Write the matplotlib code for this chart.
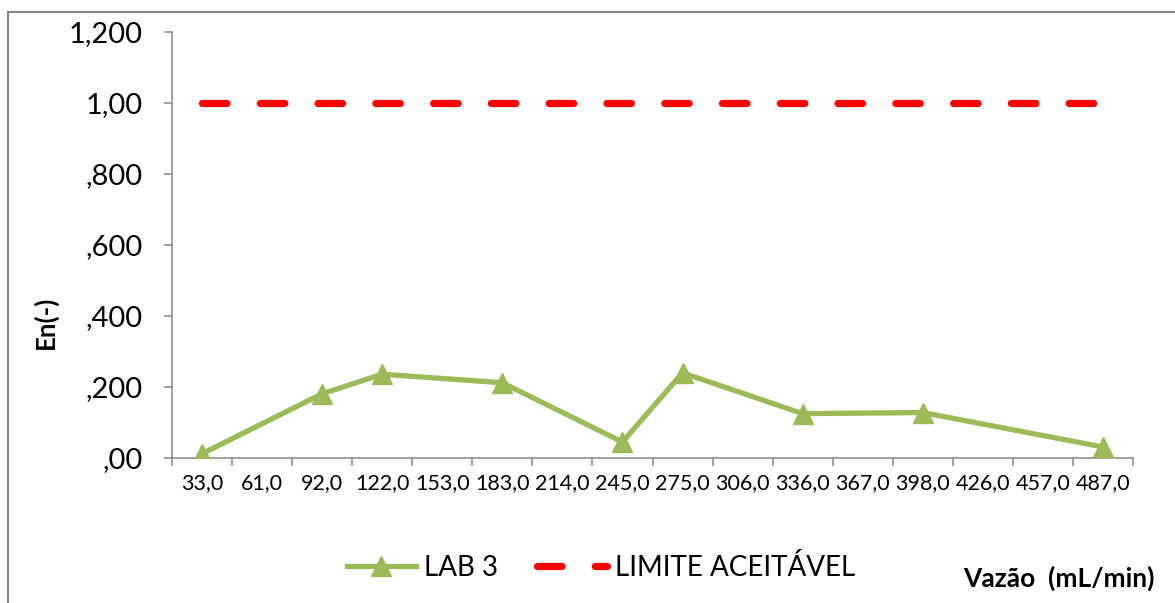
import matplotlib.pyplot as plt
from matplotlib.lines import Line2D
from matplotlib.patches import Rectangle

plt.rcParams['font.family'] = ['Lato', 'DejaVu Sans']

# Vazão (mL/min) categories and En values
vazao = ['33,0', '61,0', '92,0', '122,0', '153,0', '183,0', '214,0', '245,0',
         '275,0', '306,0', '336,0', '367,0', '398,0', '426,0', '457,0', '487,0']
lab3 = [0.012, None, 0.181, 0.236, None, 0.212, None, 0.045,
        0.240, None, 0.125, None, 0.128, None, None, 0.031]
limite = [1.00, 1.00, 1.00, 1.00, 1.00, 1.00, 1.00, 1.00,
          1.00, 1.00, 1.00, 1.00, 1.00, 1.00, 1.00, 1.00]
y_ticks = [0.0, 0.2, 0.4, 0.6, 0.8, 1.0, 1.2]
y_labels = [',00', ',200', ',400', ',600', ',800', '1,00', '1,200']

verde = '#9BBB59'
cinza = '#868686'
tracos = (3.4, 4.6)

fig = plt.figure(figsize=(11.75, 6.03), dpi=100)
ax = fig.add_axes([172 / 1175, 145 / 603, 961 / 1175, 426 / 603])

# LAB 3: pontos sem valor ficam de fora, a linha liga os vizinhos
idx = [i for i, v in enumerate(lab3) if v is not None]
vals = [lab3[i] for i in idx]
ax.plot(idx, vals, color=verde, lw=3.8, marker='^', markersize=14.5,
        markeredgecolor=verde, zorder=3)

ax.plot(range(len(limite)), limite, color='#FF0000', lw=5.2,
        dashes=tracos, dash_capstyle='round', zorder=2)

ax.set_xlim(-0.5, len(vazao) - 0.5)
ax.set_ylim(0, 1.2)

# ticks nas divisões, rótulos no centro das categorias
ax.set_xticks([i - 0.5 for i in range(len(vazao) + 1)])
ax.set_xticklabels([])
ax.set_xticks(range(len(vazao)), minor=True)
ax.set_xticklabels(vazao, minor=True, fontsize=15.5)
ax.tick_params(axis='x', which='major', direction='out', length=6,
               width=1.1, color=cinza)
ax.tick_params(axis='x', which='minor', length=0, pad=11)

ax.set_yticks(y_ticks)
ax.set_yticklabels(y_labels, fontsize=21)
ax.tick_params(axis='y', direction='out', length=6, width=1.1,
               color=cinza, pad=15)

for s in ['top', 'right']:
    ax.spines[s].set_visible(False)
for s in ['left', 'bottom']:
    ax.spines[s].set_color(cinza)
    ax.spines[s].set_linewidth(1.1)

fig.text(45 / 1175, 1 - 322 / 603, 'En(-)', rotation=90, fontsize=18.5,
         fontweight='bold', ha='center', va='center')
fig.text(963 / 1175, 1 - 578 / 603, 'Vazão  (mL/min)', fontsize=19,
         fontweight='bold', ha='left', va='center')

handles = [
    Line2D([], [], color=verde, lw=3.8, marker='^', markersize=14.5),
    Line2D([], [], color='#FF0000', lw=5.2, dashes=tracos,
           dash_capstyle='round'),
]
fig.legend(handles, ['LAB 3', 'LIMITE ACEITÁVEL'], ncol=2, frameon=False,
           loc='center', bbox_to_anchor=(601 / 1175, 1 - 567 / 603),
           fontsize=20, handlelength=2.5, handletextpad=0.3,
           columnspacing=1.4)

# moldura cinza da área do gráfico
fig.patches.append(Rectangle((8 / 1175, -0.2), 1.2, 0.2 + (603 - 12) / 603,
                             transform=fig.transFigure, fill=False,
                             edgecolor=cinza, lw=1.5))

fig.savefig('out.png', dpi=100)
